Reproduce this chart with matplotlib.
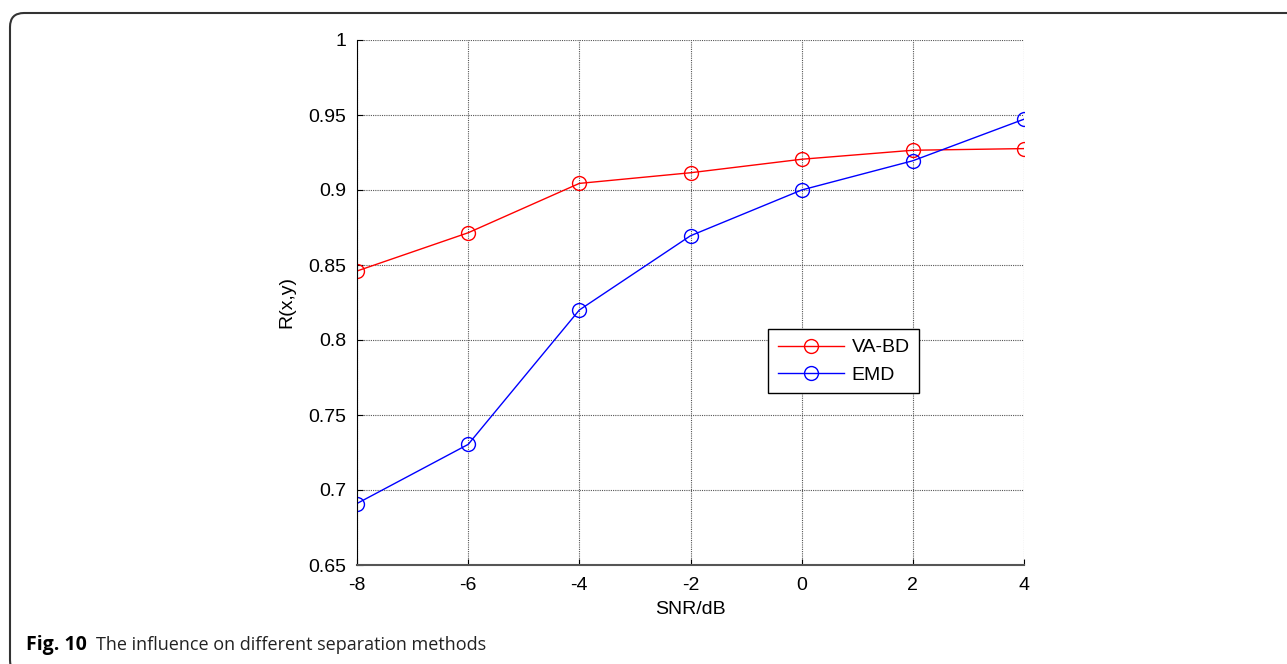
import matplotlib.pyplot as plt
from matplotlib.patches import FancyBboxPatch

snr = [-8, -6, -4, -2, 0, 2, 4]
va_bd = [0.846, 0.8715, 0.9044, 0.9115, 0.9205, 0.9265, 0.9276]
emd = [0.691, 0.7304, 0.820, 0.8695, 0.900, 0.9195, 0.9472]

plt.rcParams['font.family'] = ['Liberation Sans', 'DejaVu Sans']

fig = plt.figure(figsize=(12.87, 6.64), dpi=100)

# rounded frame around the figure (pixel coordinates)
frame = FancyBboxPatch((10, -10), 1320, 651 + 10, boxstyle="round,pad=0,rounding_size=14",
                       transform=None, fill=False, edgecolor='#333333', linewidth=1.5)
fig.patches.append(frame)

ax = fig.add_axes([357 / 1287, 1 - 565 / 664, (1024 - 357) / 1287, (565 - 40) / 664])
ax.plot(snr, va_bd, color='red', marker='o', markersize=10, markerfacecolor='none',
        linewidth=1, label='VA-BD')
ax.plot(snr, emd, color='blue', marker='o', markersize=10, markerfacecolor='none',
        linewidth=1, label='EMD')

ax.set_xlim(-8, 4)
ax.set_ylim(0.65, 1)
ax.set_xticks(snr)
ax.set_xticklabels(['-8', '-6', '-4', '-2', '0', '2', '4'])
ax.set_yticks([0.65, 0.7, 0.75, 0.8, 0.85, 0.9, 0.95, 1])
ax.set_yticklabels(['0.65', '0.7', '0.75', '0.8', '0.85', '0.9', '0.95', '1'])
ax.tick_params(direction='in', length=4, labelsize=14)
ax.tick_params(axis='x', pad=9)
ax.tick_params(axis='y', pad=8)
ax.grid(True, linestyle=(0, (1, 1)), color='#555555', linewidth=0.8)
ax.spines['top'].set_visible(False)
ax.spines['right'].set_visible(False)
ax.spines['bottom'].set_color('#555555')
ax.spines['bottom'].set_linewidth(1.5)
ax.set_xlabel('SNR/dB', fontsize=14, labelpad=5)
ax.set_ylabel('R(x,y)', fontsize=14, labelpad=9)

ax.legend(loc='upper left', bbox_to_anchor=(768 / 1287, 1 - 329 / 664),
          bbox_transform=fig.transFigure, fontsize=14, fancybox=False,
          edgecolor='black', framealpha=1, handlelength=3.4, handletextpad=0.4,
          borderpad=0.5, labelspacing=0.5, borderaxespad=0)

fig.text(26 / 1287, 1 - 645 / 664, 'Fig. 10', fontsize=14, fontweight='bold',
         family='Open Sans', va='center')
fig.text(96 / 1287, 1 - 645 / 664, 'The influence on different separation methods',
         fontsize=13, family='Open Sans', va='center', color='#222222')

fig.savefig('out.png', dpi=100)
